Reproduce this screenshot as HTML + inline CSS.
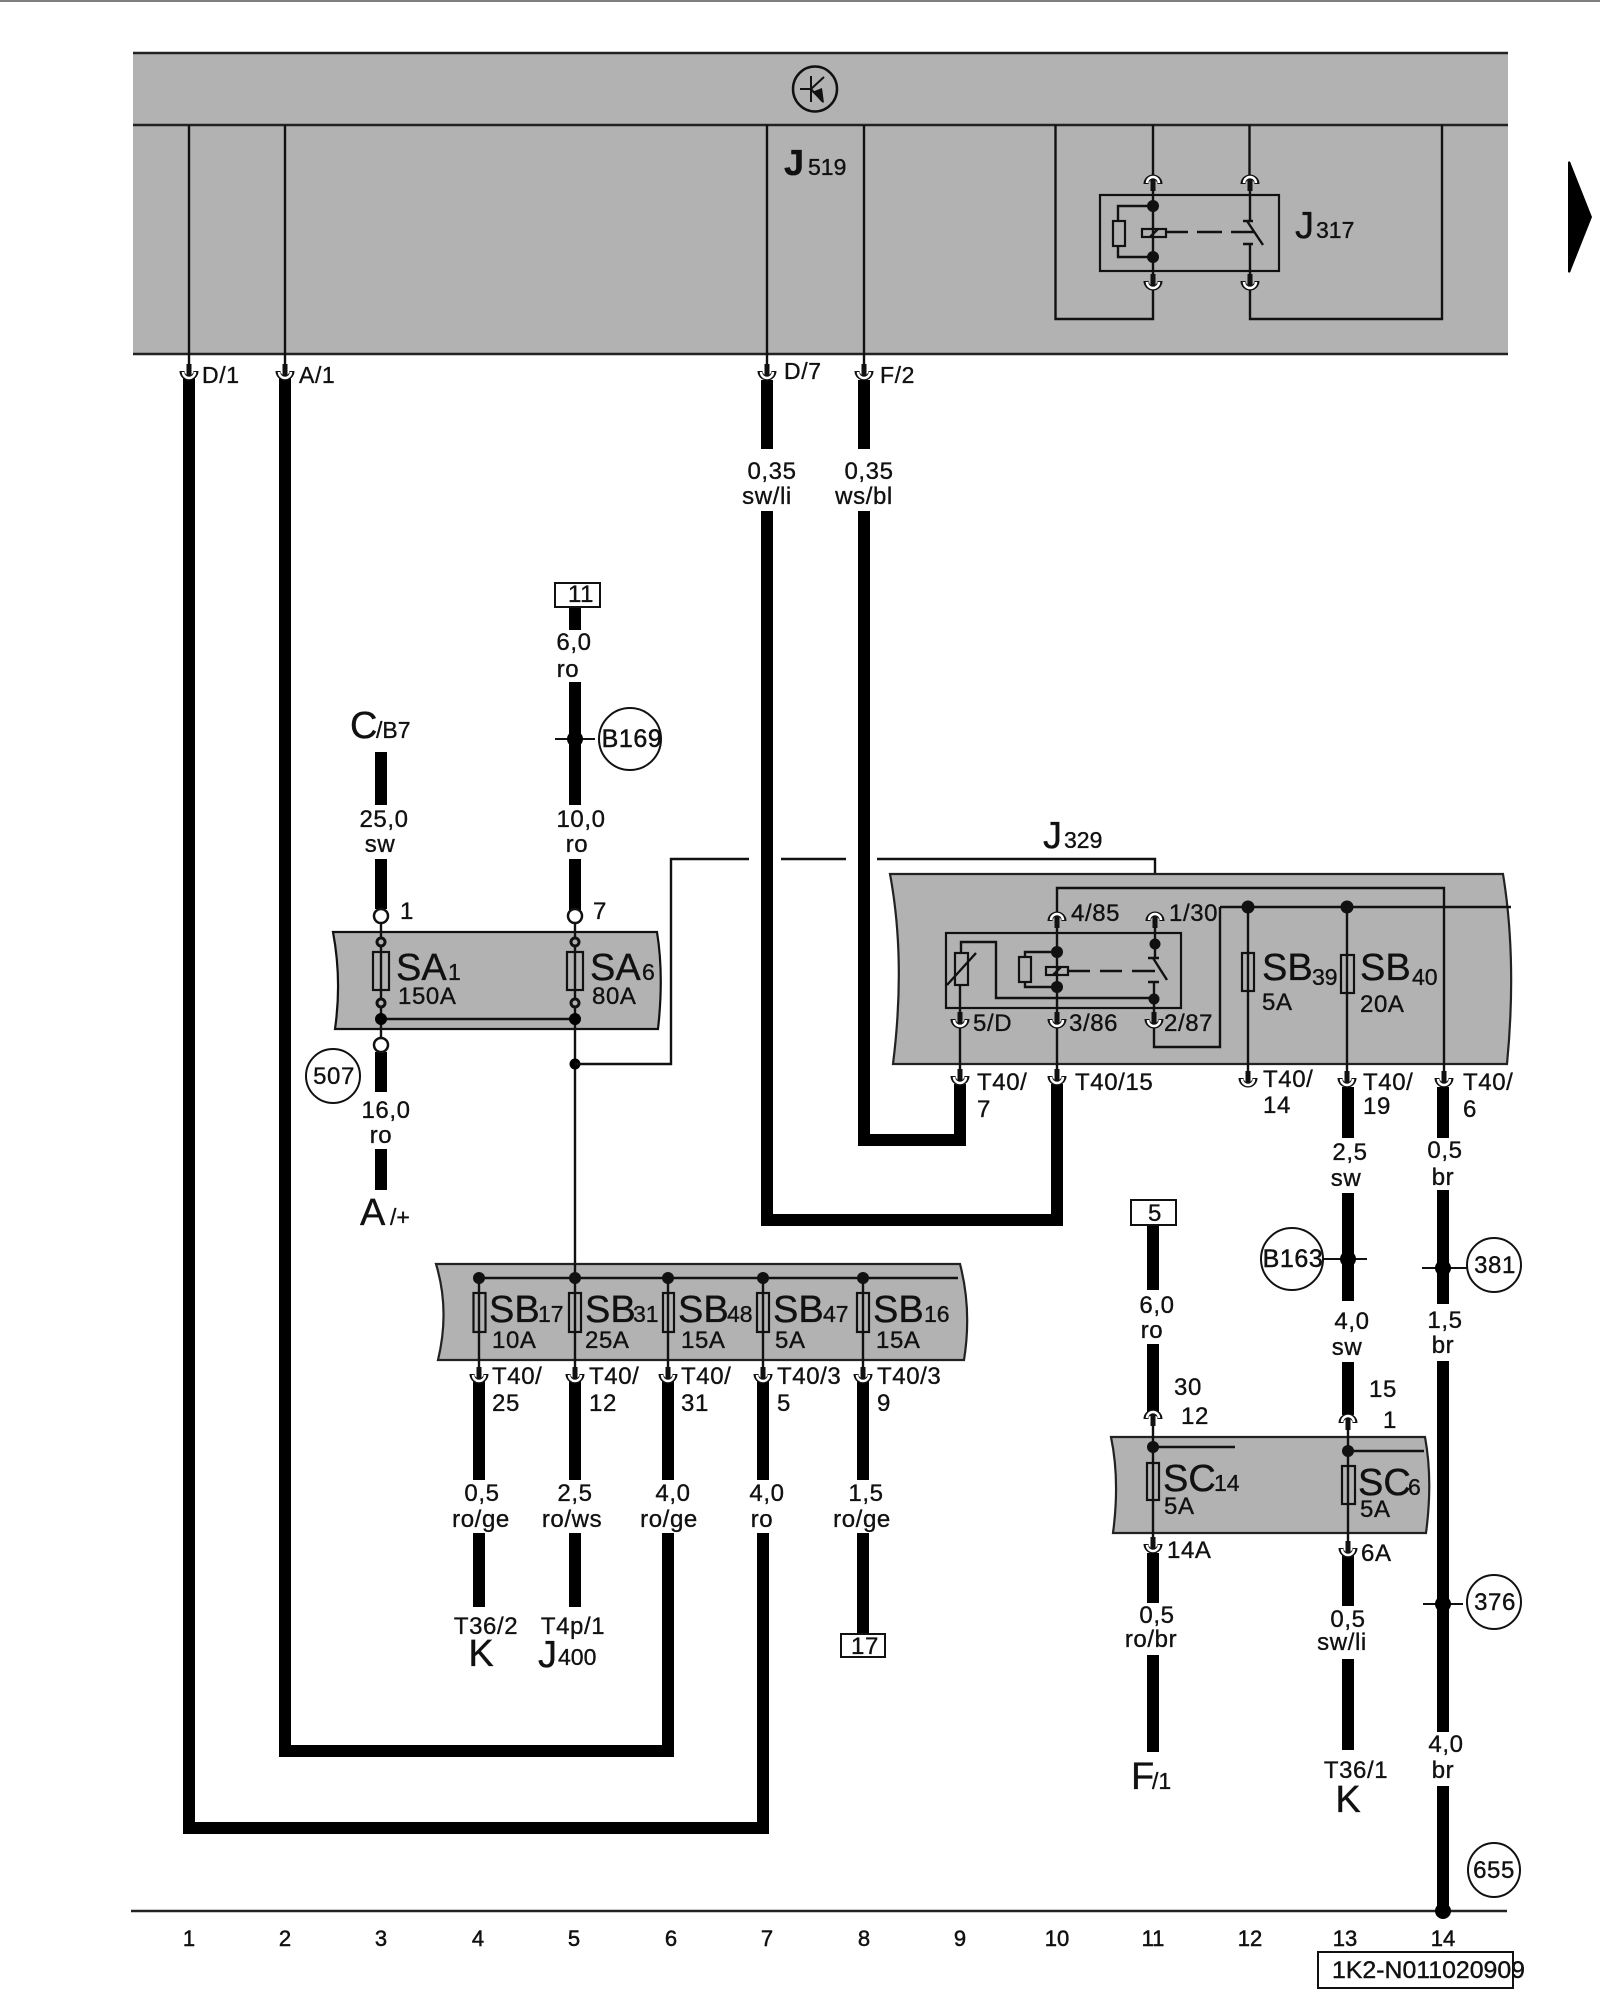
<!DOCTYPE html>
<html><head><meta charset="utf-8"><style>
html,body{margin:0;padding:0;background:#fff}
svg{display:block}
text{font-family:"Liberation Sans",sans-serif;fill:#111;stroke:#111;stroke-width:.35}
.l{font-size:24px;letter-spacing:.6px}.c{font-size:24px;letter-spacing:.6px;text-anchor:middle}
.b{font-size:38px}.s{font-size:23px}.n{font-size:22px;text-anchor:middle;stroke:#111;stroke-width:.5}
.t{fill:none;stroke:#000;stroke-width:12}
.w{fill:none;stroke:#111;stroke-width:2.4}
.f{fill:none;stroke:#111;stroke-width:2.2}
.o{fill:#fff;stroke:#111;stroke-width:2.5}
</style></head><body>
<svg width="1600" height="2000" viewBox="0 0 1600 2000" xmlns="http://www.w3.org/2000/svg">
<defs>
<g id="d"><path d="M-7,-4A7,7 0 0 0 7,-4" fill="none" stroke="#111" stroke-width="5"/><path d="M-6,-3A6,6 0 0 0 6,-3" fill="none" stroke="#fff" stroke-width="2.5"/><rect x="-2.5" y="-11" width="5" height="12" fill="#111"/></g>
<g id="u"><use href="#d" transform="scale(1,-1)"/></g>
</defs>
<rect width="1600" height="2000" fill="#fff"/>
<line x1="0" y1="1" x2="1600" y2="1" stroke="#555" stroke-width="1.5"/>

<!-- J519 band -->
<rect x="133" y="53" width="1375" height="301" fill="#b2b2b2"/>
<path d="M133,53H1508M133,125H1508M133,354H1508" fill="none" stroke="#222" stroke-width="2.6"/>
<ellipse cx="815" cy="89" rx="22" ry="22.5" fill="none" stroke="#111" stroke-width="2.5"/>
<path d="M800,89H811M811,76V102M811,89L824,77M811,89L823,102" fill="none" stroke="#111" stroke-width="2"/>
<path d="M824,103L812,92L822,88Z" fill="#111"/>
<text x="784" y="175" class="b" font-weight="bold" style="font-size:36px">J</text><text x="808" y="175" class="s">519</text>

<path class="w" d="M189,125V372M285,125V372M767,125V372M864,125V372"/>
<!-- J317 -->
<path class="w" d="M1055.500,125V319H1153V285M1249.500,125V180M1442,125V319H1250V285M1153,125V180"/>
<rect x="1100" y="195" width="179" height="76" class="f"/>
<path class="w" d="M1153,180V285M1250,180V221M1250,244V285M1243,221H1253M1243,244H1253"/>
<path class="w" d="M1247,221L1263,245"/>
<circle cx="1153" cy="206" r="6" fill="#111"/><circle cx="1153" cy="257" r="6" fill="#111"/>
<path class="w" d="M1153,206H1118V221M1118,246V257H1153"/>
<rect x="1113" y="221" width="12" height="25" class="f"/>
<rect x="1142" y="229" width="24" height="8" class="f"/>
<path class="w" d="M1150,237L1158,229"/>
<path class="w" d="M1166,232H1188M1197,232H1222M1231,232H1255"/>
<text x="1295" y="238" class="b">J</text><text x="1316" y="238" class="s">317</text>
<use href="#u" x="1153" y="180"/><use href="#u" x="1250" y="180"/><use href="#d" x="1153" y="285"/><use href="#d" x="1250" y="285"/>

<!-- arrow -->
<path d="M1568,162Q1570,160 1571,164L1592,217L1571,270Q1570,274 1568,272Z" fill="#000"/>

<!-- thick wires -->
<polyline class="t" points="189,378 189,1828 763,1828 763,1533"/>
<polyline class="t" points="285,378 285,1751 668,1751 668,1533"/>
<path class="t" d="M767,380V449M767,511V1220H1057V1084"/>
<path class="t" d="M864,380V449M864,511V1140H960V1084"/>
<path class="t" d="M381,752V805M381,859V909"/>
<path class="t" d="M381,1052V1092M381,1149V1190"/>
<path class="t" d="M575,607V630M575,682V805M575,859V910"/>
<path class="t" d="M479,1380V1480M479,1533V1607M575,1380V1480M575,1533V1607M668,1380V1480M763,1380V1480M863,1380V1480M863,1533V1634"/>
<path class="t" d="M1153,1225V1290M1153,1344V1416M1153,1553V1603M1153,1655V1752"/>
<path class="t" d="M1348,1087V1138M1348,1193V1301M1348,1362V1415M1348,1555V1606M1348,1659V1750"/>
<path class="t" d="M1443,1087V1138M1443,1190V1304M1443,1361V1732M1443,1786V1911"/>

<use href="#d" x="189" y="375"/><use href="#d" x="285" y="375"/><use href="#d" x="767" y="375"/><use href="#d" x="864" y="375"/>
<text x="202" y="383" class="l" style="font-size:23px">D/1</text><text x="299" y="383" class="l" style="font-size:23px">A/1</text><text x="784" y="379" class="l" style="font-size:23px">D/7</text><text x="880" y="383" class="l" style="font-size:23px">F/2</text>
<text x="772" y="479" class="c">0,35</text><text x="767" y="504" class="c">sw/li</text>
<text x="869" y="479" class="c">0,35</text><text x="864" y="504" class="c">ws/bl</text>

<!-- box 11, B169, C -->
<rect x="555" y="583" width="45" height="24" fill="#fff" stroke="#111" stroke-width="2"/><text x="581" y="602" class="c">11</text>
<text x="574" y="650" class="c">6,0</text><text x="568" y="677" class="c">ro</text>
<line x1="555" y1="739" x2="595" y2="739" stroke="#111" stroke-width="2"/><circle cx="575" cy="739" r="8" fill="#000"/>
<circle cx="630" cy="739" r="31" fill="#fff" stroke="#111" stroke-width="2"/><text x="632" y="747" class="c" style="font-size:25px;stroke:#111;stroke-width:.5">B169</text>
<text x="350" y="738" class="b">C</text><text x="376" y="738" class="s">/B7</text>
<text x="384" y="827" class="c">25,0</text><text x="380" y="852" class="c">sw</text>
<text x="581" y="827" class="c">10,0</text><text x="577" y="852" class="c">ro</text>
<text x="400" y="919" class="l">1</text><text x="593" y="919" class="l">7</text>

<!-- SA bar -->
<path d="M333,932H657Q664,975 658,1029H335Q342,980 333,932Z" fill="#b2b2b2" stroke="#111" stroke-width="2.2"/>
<path class="w" d="M381,923V1038M575,923V1264M381,1019H575"/>
<rect x="373" y="952" width="16" height="38" class="f"/><rect x="567" y="952" width="16" height="38" class="f"/>
<circle cx="381" cy="916" r="7" class="o"/><circle cx="575" cy="916" r="7" class="o"/><circle cx="381" cy="1045" r="7" class="o"/>
<circle cx="381" cy="942" r="4" fill="#b2b2b2" stroke="#111" stroke-width="3"/><circle cx="575" cy="942" r="4" fill="#b2b2b2" stroke="#111" stroke-width="3"/>
<circle cx="381" cy="1003" r="4" fill="#b2b2b2" stroke="#111" stroke-width="3"/><circle cx="575" cy="1003" r="4" fill="#b2b2b2" stroke="#111" stroke-width="3"/>
<circle cx="381" cy="1019" r="6" fill="#000"/><circle cx="575" cy="1019" r="6" fill="#000"/><circle cx="575" cy="1064" r="5.500" fill="#000"/>
<text x="396" y="980" class="b">SA</text><text x="448" y="980" class="s">1</text><text x="398" y="1004" class="l">150A</text>
<text x="590" y="980" class="b">SA</text><text x="642" y="980" class="s">6</text><text x="592" y="1004" class="l">80A</text>
<path class="w" d="M575,1064H671V859H749M781,859H846M877,859H1155V917"/>
<circle cx="333" cy="1076" r="27" fill="#fff" stroke="#111" stroke-width="2"/><text x="334" y="1084" class="c">507</text>
<text x="386" y="1118" class="c">16,0</text><text x="381" y="1143" class="c">ro</text>
<text x="360" y="1225" class="b">A</text><text x="390" y="1225" class="s">/+</text>

<!-- J329 box -->
<path d="M890,874H1503Q1517,960 1507,1064H893Q906,960 890,874Z" fill="#b2b2b2" stroke="#222" stroke-width="2.2"/>
<rect x="946" y="933" width="235" height="75" class="f"/>
<path class="w" d="M1057,917V888H1444V1082M1220,907H1511M1220,907V1047H1154V1023M1248,907V1082M1347,907V1083M960,985V1080M1057,917V1080M1155,917V958M1154,982V1023"/>
<path class="w" d="M961,953V942H996V998H1154M947,985L976,953"/>
<rect x="955" y="953" width="13" height="32" class="f"/>
<circle cx="1057" cy="952" r="6" fill="#111"/><circle cx="1057" cy="987" r="6" fill="#111"/><circle cx="1155" cy="944" r="5.500" fill="#111"/><circle cx="1154" cy="999" r="5.500" fill="#111"/><circle cx="1248" cy="907" r="6.500" fill="#111"/><circle cx="1347" cy="907" r="6.500" fill="#111"/>
<path class="w" d="M1057,952H1025V957M1025,982V987H1057"/>
<rect x="1019" y="957" width="12" height="25" class="f"/>
<rect x="1046" y="967" width="22" height="8" class="f"/>
<path class="w" d="M1053,975L1061,967M1068,971H1090M1100,971H1122M1132,971H1155M1148,958H1159M1148,982H1159M1153,958L1167,980"/>
<rect x="1242" y="953" width="12" height="38" class="f"/><rect x="1341" y="955" width="13" height="38" class="f"/>
<use href="#u" x="1057" y="917"/><use href="#u" x="1155" y="917"/><use href="#d" x="960" y="1023"/><use href="#d" x="1057" y="1023"/><use href="#d" x="1154" y="1023"/>
<use href="#d" x="960" y="1080"/><use href="#d" x="1057" y="1080"/><use href="#d" x="1248" y="1082"/><use href="#d" x="1347" y="1082"/><use href="#d" x="1444" y="1082"/>
<text x="1043" y="848" class="b">J</text><text x="1064" y="848" class="s">329</text>
<text x="1071" y="921" class="l">4/85</text><text x="1169" y="921" class="l">1/30</text>
<text x="973" y="1031" class="l">5/D</text><text x="1069" y="1031" class="l">3/86</text><text x="1164" y="1031" class="l">2/87</text>
<text x="1262" y="980" class="b">SB</text><text x="1312" y="985" class="s">39</text><text x="1262" y="1010" class="l">5A</text>
<text x="1360" y="980" class="b">SB</text><text x="1412" y="985" class="s">40</text><text x="1360" y="1012" class="l">20A</text>
<text x="977" y="1090" class="l">T40/</text><text x="977" y="1117" class="l">7</text>
<text x="1075" y="1090" class="l">T40/15</text>
<text x="1263" y="1087" class="l">T40/</text><text x="1263" y="1113" class="l">14</text>
<text x="1363" y="1090" class="l">T40/</text><text x="1363" y="1114" class="l">19</text>
<text x="1463" y="1090" class="l">T40/</text><text x="1463" y="1117" class="l">6</text>

<!-- right column labels -->
<text x="1350" y="1160" class="c">2,5</text><text x="1346" y="1186" class="c">sw</text>
<text x="1445" y="1158" class="c">0,5</text><text x="1443" y="1185" class="c">br</text>
<rect x="1131" y="1200" width="45" height="25" fill="#fff" stroke="#111" stroke-width="2"/><text x="1155" y="1221" class="c">5</text>
<text x="1157" y="1313" class="c">6,0</text><text x="1152" y="1338" class="c">ro</text>
<line x1="1322" y1="1259" x2="1367" y2="1259" stroke="#111" stroke-width="2"/><circle cx="1348" cy="1259" r="8" fill="#000"/>
<circle cx="1292" cy="1259" r="31" fill="#fff" stroke="#111" stroke-width="2"/><text x="1293" y="1267" class="c" style="font-size:25px;stroke:#111;stroke-width:.5">B163</text>
<line x1="1422" y1="1268" x2="1467" y2="1268" stroke="#111" stroke-width="2"/><circle cx="1443" cy="1268" r="8" fill="#000"/>
<circle cx="1494" cy="1265" r="27" fill="#fff" stroke="#111" stroke-width="2"/><text x="1495" y="1273" class="c" style="stroke:#111;stroke-width:.4">381</text>
<text x="1352" y="1329" class="c">4,0</text><text x="1347" y="1355" class="c">sw</text>
<text x="1445" y="1328" class="c">1,5</text><text x="1443" y="1353" class="c">br</text>
<text x="1174" y="1395" class="l">30</text><text x="1181" y="1424" class="l">12</text><text x="1369" y="1397" class="l">15</text><text x="1383" y="1428" class="l">1</text>

<!-- SC bar -->
<path d="M1111,1437H1425Q1433,1480 1426,1533H1113Q1120,1480 1111,1437Z" fill="#b2b2b2" stroke="#222" stroke-width="2.2"/>
<path class="w" d="M1153,1415V1548M1348,1419V1552M1153,1447H1235M1348,1451H1424"/>
<circle cx="1153" cy="1447" r="6" fill="#111"/><circle cx="1348" cy="1451" r="6" fill="#111"/>
<rect x="1147" y="1463" width="12" height="37" class="f"/><rect x="1342" y="1466" width="13" height="38" class="f"/>
<use href="#u" x="1153" y="1415"/><use href="#u" x="1348" y="1419"/><use href="#d" x="1153" y="1548"/><use href="#d" x="1348" y="1552"/>
<text x="1163" y="1491" class="b">SC</text><text x="1214" y="1491" class="s">14</text><text x="1164" y="1514" class="l">5A</text>
<text x="1358" y="1495" class="b">SC</text><text x="1408" y="1495" class="s">6</text><text x="1360" y="1517" class="l">5A</text>
<text x="1167" y="1558" class="l">14A</text><text x="1361" y="1561" class="l">6A</text>
<text x="1157" y="1623" class="c">0,5</text><text x="1151" y="1647" class="c">ro/br</text>
<text x="1348" y="1627" class="c">0,5</text><text x="1342" y="1650" class="c">sw/li</text>
<line x1="1423" y1="1604" x2="1463" y2="1604" stroke="#111" stroke-width="2"/><circle cx="1443" cy="1604" r="8" fill="#000"/>
<circle cx="1494" cy="1602" r="27" fill="#fff" stroke="#111" stroke-width="2"/><text x="1495" y="1610" class="c" style="stroke:#111;stroke-width:.4">376</text>
<text x="1446" y="1752" class="c">4,0</text><text x="1443" y="1778" class="c">br</text>
<text x="1131" y="1789" class="b">F</text><text x="1152" y="1789" class="s">/1</text>
<text x="1356" y="1778" class="c">T36/1</text><text x="1348" y="1812" class="b" text-anchor="middle">K</text>
<ellipse cx="1494" cy="1870" rx="26" ry="27" fill="#fff" stroke="#111" stroke-width="2"/><text x="1494" y="1878" class="c" style="stroke:#111;stroke-width:.4">655</text>

<!-- SB bar -->
<path d="M436,1264H960Q972,1310 964,1360H438Q450,1310 436,1264Z" fill="#b2b2b2" stroke="#222" stroke-width="2.2"/>
<path class="w" d="M479,1278H958M479,1278V1378M575,1264V1378M668,1278V1378M763,1278V1378M863,1278V1378"/>
<circle cx="479" cy="1278" r="6" fill="#111"/><circle cx="575" cy="1278" r="6" fill="#111"/><circle cx="668" cy="1278" r="6" fill="#111"/><circle cx="763" cy="1278" r="6" fill="#111"/><circle cx="863" cy="1278" r="6" fill="#111"/>
<rect x="473.500" y="1293" width="12" height="39" class="f"/><rect x="569" y="1293" width="12" height="39" class="f"/><rect x="663" y="1293" width="11" height="39" class="f"/><rect x="757" y="1293" width="12" height="39" class="f"/><rect x="857" y="1293" width="12" height="39" class="f"/>
<use href="#d" x="479" y="1378"/><use href="#d" x="575" y="1378"/><use href="#d" x="668" y="1378"/><use href="#d" x="763" y="1378"/><use href="#d" x="863" y="1378"/>
<text x="489" y="1322" class="b">SB</text><text x="538" y="1322" class="s">17</text><text x="492" y="1348" class="l">10A</text>
<text x="585" y="1322" class="b">SB</text><text x="633" y="1322" class="s">31</text><text x="585" y="1348" class="l">25A</text>
<text x="678" y="1322" class="b">SB</text><text x="727" y="1322" class="s">48</text><text x="681" y="1348" class="l">15A</text>
<text x="773" y="1322" class="b">SB</text><text x="823" y="1322" class="s">47</text><text x="775" y="1348" class="l">5A</text>
<text x="873" y="1322" class="b">SB</text><text x="924" y="1322" class="s">16</text><text x="876" y="1348" class="l">15A</text>
<text x="492" y="1384" class="l">T40/</text><text x="492" y="1411" class="l">25</text>
<text x="589" y="1384" class="l">T40/</text><text x="589" y="1411" class="l">12</text>
<text x="681" y="1384" class="l">T40/</text><text x="681" y="1411" class="l">31</text>
<text x="777" y="1384" class="l">T40/3</text><text x="777" y="1411" class="l">5</text>
<text x="877" y="1384" class="l">T40/3</text><text x="877" y="1411" class="l">9</text>
<text x="482" y="1501" class="c">0,5</text><text x="481" y="1527" class="c">ro/ge</text>
<text x="575" y="1501" class="c">2,5</text><text x="572" y="1527" class="c">ro/ws</text>
<text x="673" y="1501" class="c">4,0</text><text x="669" y="1527" class="c">ro/ge</text>
<text x="767" y="1501" class="c">4,0</text><text x="762" y="1527" class="c">ro</text>
<text x="866" y="1501" class="c">1,5</text><text x="862" y="1527" class="c">ro/ge</text>
<text x="486" y="1634" class="c">T36/2</text><text x="481" y="1666" class="b" text-anchor="middle">K</text>
<text x="573" y="1634" class="c">T4p/1</text><text x="538" y="1667" class="b">J</text><text x="558" y="1665" class="s">400</text>
<rect x="841" y="1634" width="44" height="23" fill="#fff" stroke="#111" stroke-width="2"/><text x="865" y="1654" class="c">17</text>

<!-- bottom -->
<line x1="131" y1="1911" x2="1507" y2="1911" stroke="#222" stroke-width="2.6"/>
<ellipse cx="1443" cy="1911" rx="8" ry="8" fill="#000"/>
<text x="189" y="1946" class="n">1</text><text x="285" y="1946" class="n">2</text><text x="381" y="1946" class="n">3</text><text x="478" y="1946" class="n">4</text><text x="574" y="1946" class="n">5</text><text x="671" y="1946" class="n">6</text><text x="767" y="1946" class="n">7</text><text x="864" y="1946" class="n">8</text><text x="960" y="1946" class="n">9</text><text x="1057" y="1946" class="n">10</text><text x="1153" y="1946" class="n">11</text><text x="1250" y="1946" class="n">12</text><text x="1345" y="1946" class="n">13</text><text x="1443" y="1946" class="n">14</text>
<rect x="1318" y="1952" width="195" height="36" fill="none" stroke="#111" stroke-width="2"/>
<text x="1332" y="1978" class="l" textLength="193" lengthAdjust="spacingAndGlyphs" style="letter-spacing:0;stroke:#111;stroke-width:.4">1K2-N011020909</text>
</svg>
</body></html>
